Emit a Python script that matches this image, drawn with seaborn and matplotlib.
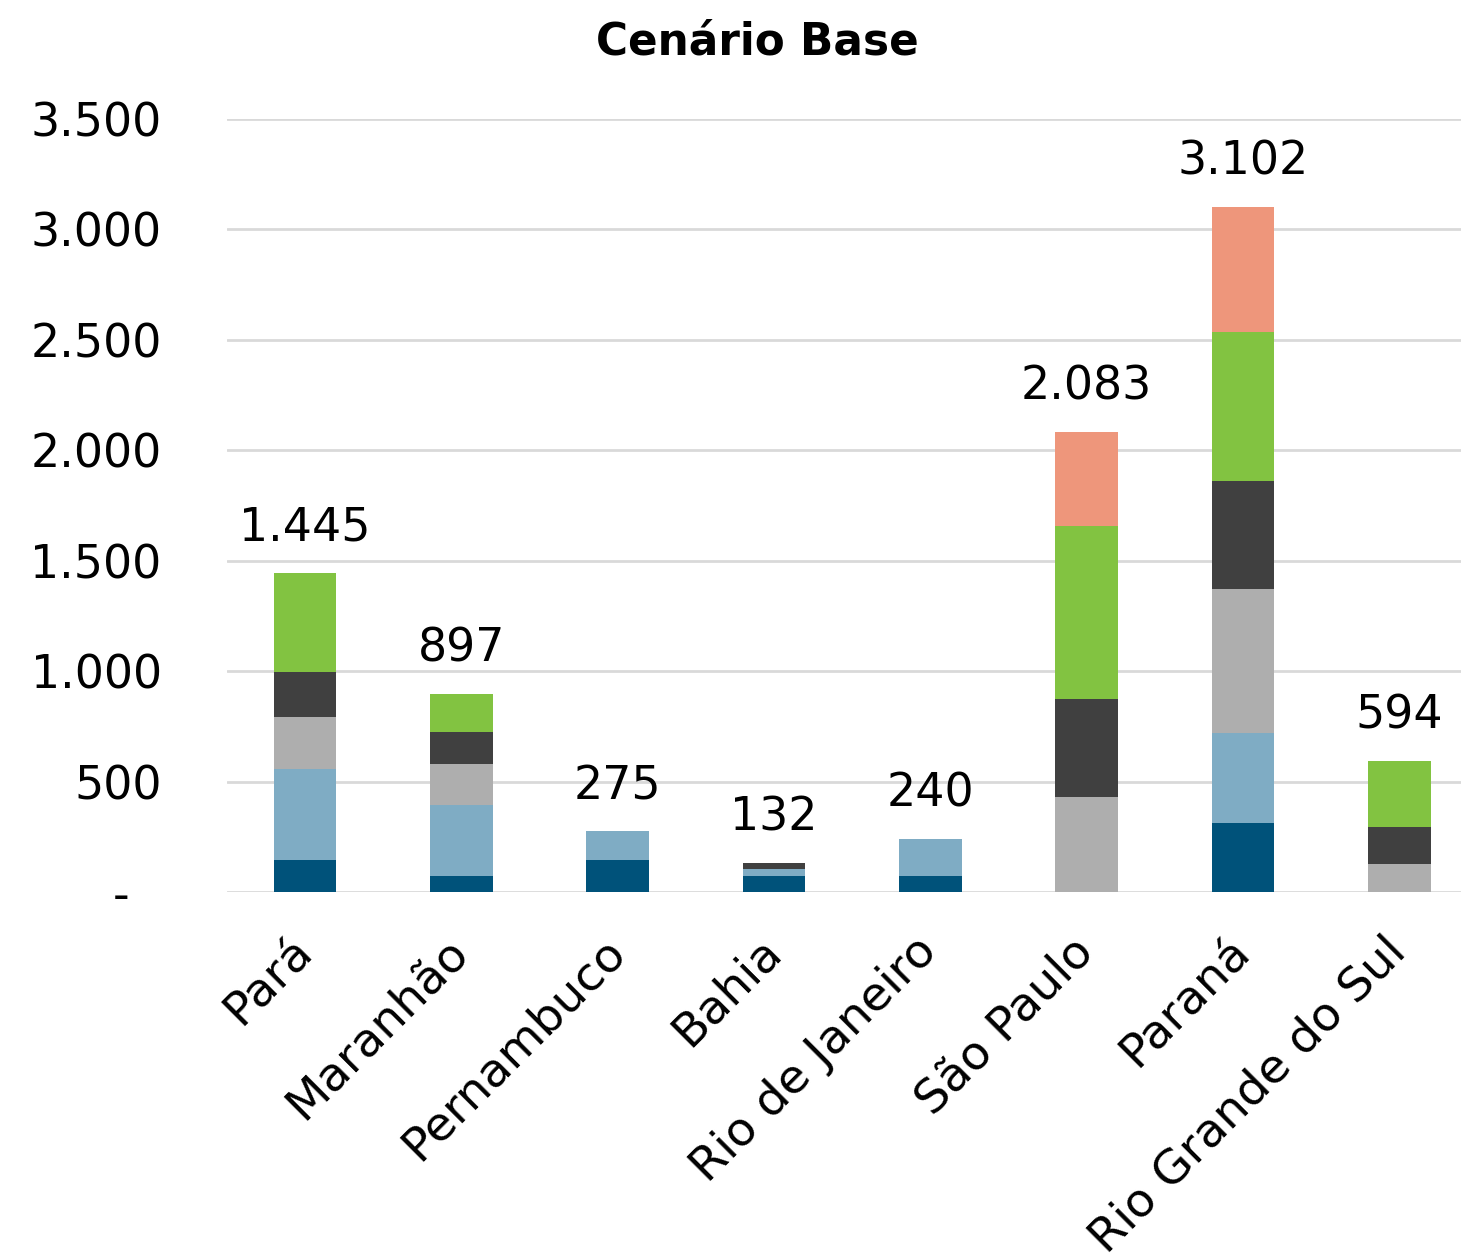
import matplotlib
matplotlib.use("Agg")
import matplotlib.pyplot as plt
import seaborn as sns
import numpy as np
import pandas as pd
from matplotlib.ticker import FuncFormatter

# States and stacked components (bottom to top)
estados = ["Pará", "Maranhão", "Pernambuco", "Bahia", "Rio de Janeiro",
           "São Paulo", "Paraná", "Rio Grande do Sul"]
serie_1 = [144, 71, 144, 73, 71, 0, 313, 0]
serie_2 = [411, 325, 131, 31, 169, 0, 408, 0]
serie_3 = [236, 184, 0, 0, 0, 431, 650, 129]
serie_4 = [207, 146, 0, 28, 0, 443, 492, 166]
serie_5 = [447, 171, 0, 0, 0, 781, 671, 299]
serie_6 = [0, 0, 0, 0, 0, 428, 568, 0]
totais = [1445, 897, 275, 132, 240, 2083, 3102, 594]

series = [serie_1, serie_2, serie_3, serie_4, serie_5, serie_6]
cores = ["#00527A", "#7FACC4", "#AEAEAE", "#404040", "#82C341", "#EE967B"]

sns.set_style("white")
plt.rcParams["font.family"] = ["DejaVu Sans"]
plt.rcParams["text.color"] = "black"
plt.rcParams["xtick.color"] = "black"
plt.rcParams["ytick.color"] = "black"

fig = plt.figure(figsize=(14.61, 12.60), dpi=100)
ax = fig.add_axes([227 / 1461, 368 / 1260, 1234 / 1461, 773 / 1260])

# Stacked bars: draw cumulative heights from the tallest layer down
acumulado = np.cumsum(np.array(series), axis=0)
for i in range(len(series) - 1, -1, -1):
    df = pd.DataFrame({"estado": estados, "valor": acumulado[i]})
    sns.barplot(data=df, x="estado", y="valor", order=estados, color=cores[i],
                saturation=1, width=0.4, linewidth=0, ax=ax, zorder=3)

# Total labels above each bar
for xi, t in enumerate(totais):
    rotulo = f"{t:,}".replace(",", ".")
    ax.annotate(rotulo, xy=(xi, t), xytext=(0, 16), textcoords="offset points",
                ha="center", va="bottom", fontsize=33, color="black")


def formato_contabil(v, p):
    # Accounting style: zero shown as a dash set in from the right edge
    if v == 0:
        return "-\u2002\u2009"
    return f"{int(v):,}".replace(",", ".")


ax.set_ylim(0, 3500)
ax.set_xlim(-0.5, 7.395)
ax.set_yticks(np.arange(0, 3501, 500))
ax.yaxis.set_major_formatter(FuncFormatter(formato_contabil))
ax.grid(axis="y", color="#D9D9D9", linewidth=2, zorder=0)
ax.set_axisbelow(True)
for s in ax.spines.values():
    s.set_visible(False)

ax.tick_params(axis="y", length=0, pad=47, labelsize=33)
ax.tick_params(axis="x", length=0, pad=38)
ax.set_xticks(range(len(estados)))
ax.set_xticklabels(estados, rotation=45, ha="right", va="center",
                   rotation_mode="anchor", fontsize=34)
ax.set_xlabel("")
ax.set_ylabel("")

fig.text(757 / 1461, 1 - 42 / 1260, "Cenário Base", ha="center", va="center",
         fontsize=31.5, fontweight="bold")

fig.savefig("out.png", dpi=100)
